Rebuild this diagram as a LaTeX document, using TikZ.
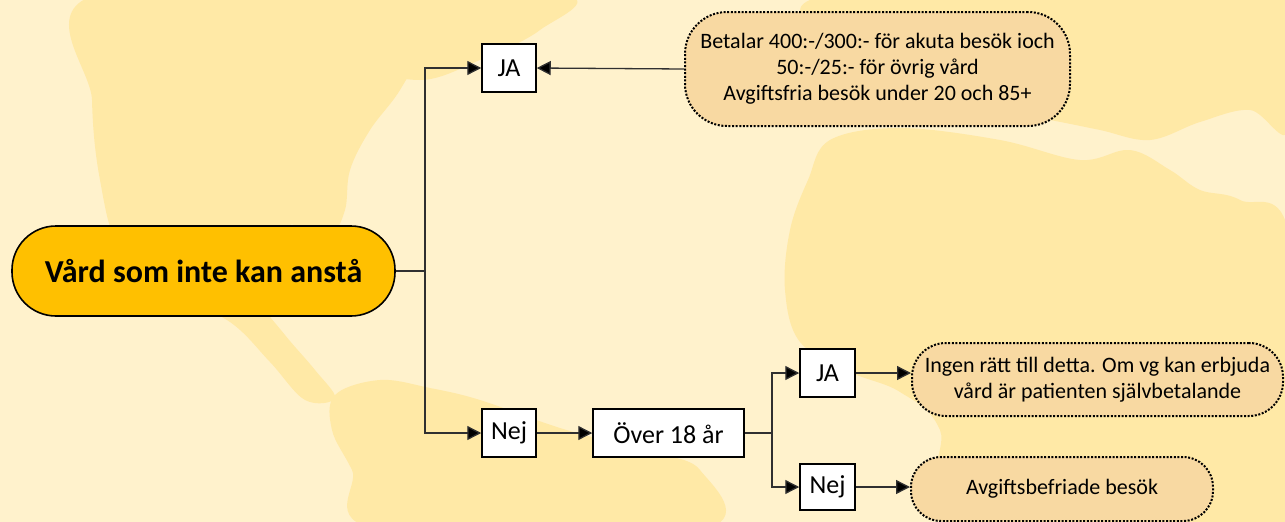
\documentclass[tikz,border=0pt]{standalone}
\usepackage{fontspec}
\setmainfont{Carlito}
\usetikzlibrary{arrows.meta,shadows}
\definecolor{ocean}{HTML}{FFF2CC}
\definecolor{land}{HTML}{FFE9A6}
\definecolor{mainfill}{HTML}{FFC000}
\definecolor{infofill}{HTML}{F8D9A2}
\definecolor{linec}{HTML}{303030}
\begin{document}
\begin{tikzpicture}[x=1pt,y=-1pt,
  conn/.style={draw=linec, line width=1.3pt},
  arr/.style={conn, -{Triangle[length=14pt,width=14pt,fill=black]}},
  box/.style={draw=black, line width=1.5pt, fill=white, inner sep=0pt, minimum height=48pt, font=\fontsize{26}{30}\selectfont,
     drop shadow={shadow xshift=1.2pt, shadow yshift=-1.4pt, fill=black!75, opacity=1}},
  info/.style={draw=black, line width=2pt, dash pattern=on 2pt off 1.6pt, fill=infofill, align=center, inner sep=0pt, font=\fontsize{22}{26}\selectfont},
  mainbox/.style={draw=black, line width=1.6pt, fill=mainfill, inner sep=0pt, font=\fontsize{32}{36}\selectfont\bfseries}
]
% background
\fill[ocean] (0,0) rectangle (1285,522);
\useasboundingbox (0,0) rectangle (1285,522);
\fill[land] plot[smooth cycle, tension=0.6] coordinates {(95,-5) (430,-5) (425,40) (400,90) (370,130) (350,170) (345,210) (330,235) (300,225) (265,230) (245,255) (255,295) (285,335) (315,370) (335,398) (305,400) (270,362) (230,322) (170,292) (120,250) (100,180) (92,100)};
\fill[land] plot[smooth cycle, tension=0.6] coordinates {(335,395) (380,380) (430,388) (480,400) (560,428) (640,450) (700,470) (700,530) (380,530) (352,470) (332,430)};
\fill[land] plot[smooth cycle, tension=0.6] coordinates {(335,-5) (565,-5) (540,30) (480,60) (420,80) (360,60)};
\fill[land] plot[smooth cycle, tension=0.6] coordinates {(830,140) (900,128) (1000,140) (1080,160) (1130,150) (1170,170) (1200,190) (1240,200) (1290,240) (1290,530) (960,530) (940,430) (900,392) (850,372) (800,342) (785,290) (790,230) (808,180)};
\fill[land] plot[smooth cycle, tension=0.6] coordinates {(830,-5) (1290,-5) (1290,130) (1250,110) (1200,122) (1150,140) (1100,130) (1050,120) (990,110) (930,100) (880,90) (848,60)};

% nodes
\node[mainbox, minimum width=383pt, minimum height=90pt, rounded corners=44pt] (main) at (203.5,271) {Vård som inte kan anstå};
\node[box, minimum width=54pt] (ja1) at (509,68) {JA};
\node[box, minimum width=54pt] (nej1) at (509,433) {Nej};
\node[box, minimum width=151pt] (over) at (668.5,433) {Över 18 år};
\node[box, minimum width=55pt] (ja2) at (827.5,373) {JA};
\node[box, minimum width=55pt, minimum height=46pt] (nej2) at (827.5,487) {Nej};
\node[info, minimum width=385pt, minimum height=114pt, rounded corners=42pt] (info1) at (877.5,69)
  {Betalar 400:-/300:- för akuta besök ioch\\50:-/25:- för övrig vård\\Avgiftsfria besök under 20 och 85+};
\node[info, minimum width=371pt, minimum height=73pt, rounded corners=34pt] (info2) at (1097.5,379.5)
  {Ingen rätt till detta. Om vg kan erbjuda\\vård är patienten självbetalande};
\node[info, minimum width=302pt, minimum height=64pt, rounded corners=30pt] (info3) at (1062,489)
  {Avgiftsbefriade besök};

% connectors
\coordinate (b1) at (425,271);
\coordinate (b2) at (772,433);
\draw[conn] (main.east) -- (b1);
\draw[arr] (b1) |- (ja1.west);
\draw[arr] (b1) |- (nej1.west);
\draw[arr] (info1.west) -- (ja1.east);
\draw[arr] (nej1.east) -- (over.west);
\draw[conn] (over.east) -- (b2);
\draw[arr] (b2) |- (ja2.west);
\draw[arr] (b2) |- (nej2.west);
\draw[arr] (ja2.east) -- (ja2.east -| info2.west);
\draw[arr] (nej2.east) -- (nej2.east -| info3.west);
\end{tikzpicture}
\end{document}
